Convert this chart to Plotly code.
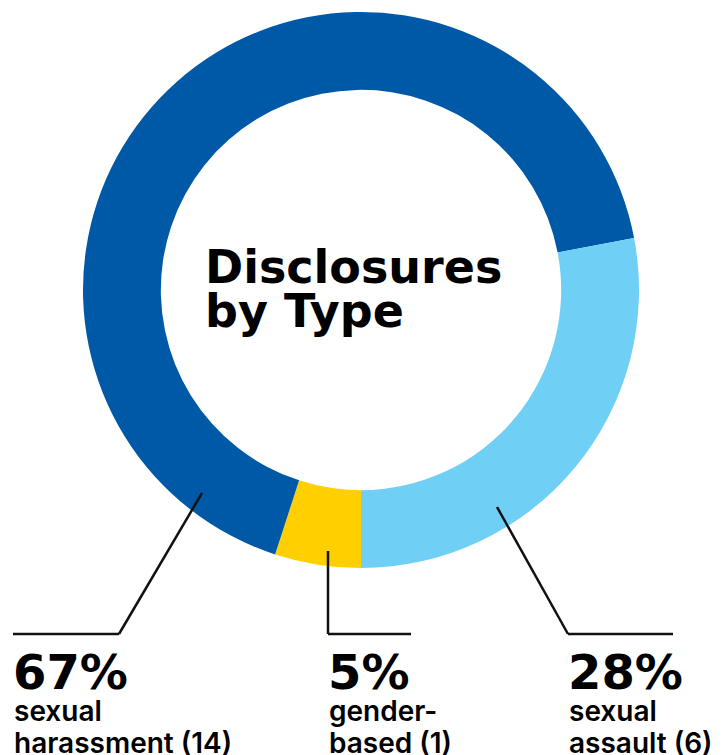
import plotly.graph_objects as go

# Disclosures by type (clockwise from the bottom of the ring)
categories = ["gender-based", "sexual harassment", "sexual assault"]
shares = [5, 67, 28]          # percent of all disclosures
counts = [1, 14, 6]
sub_labels = [["gender-", "based"], ["sexual", "harassment"], ["sexual", "assault"]]
colors = ["#FFCF00", "#0059A6", "#70CFF5"]

W, H = 723, 755
cx, cy, r = 361, 290, 278

fig = go.Figure()
fig.add_trace(go.Pie(
    labels=categories,
    values=shares,
    customdata=counts,
    hole=0.72,
    sort=False,
    direction="clockwise",
    rotation=180,
    marker=dict(colors=colors, line=dict(width=0)),
    textinfo="none",
    hovertemplate="%{label}: %{value}% (%{customdata})<extra></extra>",
    showlegend=False,
    domain=dict(x=[(cx - r) / W, (cx + r) / W], y=[1 - (cy + r) / H, 1 - (cy - r) / H]),
))

# Leader lines: (start on ring, elbow, end of underline)
leaders = {
    "sexual harassment": [(202, 493), (119, 634), (13, 634)],
    "gender-based": [(328, 551), (328, 634), (411, 634)],
    "sexual assault": [(497, 507), (568, 634), (673, 634)],
}
label_x = {"sexual harassment": 13, "gender-based": 328, "sexual assault": 568}

shapes = []
for pts in leaders.values():
    for (x0, y0), (x1, y1) in zip(pts[:-1], pts[1:]):
        shapes.append(dict(type="line", xref="x", yref="y", x0=x0, y0=y0, x1=x1, y1=y1,
                           line=dict(color="#111111", width=2.5)))

annotations = []

def text_at(x, baseline, txt, size, family="DejaVu Sans", weight="bold"):
    annotations.append(dict(
        x=x, y=baseline - 0.345 * size, xref="x", yref="y",
        text=txt, showarrow=False, xanchor="left", yanchor="middle",
        font=dict(family=family, size=size, color="#000000", weight=weight),
    ))

# Centre title
text_at(203, 283, "Disclosures", 46)
text_at(203, 327, "by Type", 46)

for cat, share, n, sub in zip(categories, shares, counts, sub_labels):
    x = label_x[cat]
    text_at(x - 2, 689, f"{share}%", 48)
    text_at(x - 1, 721, sub[0], 28, family="Inter", weight=600)
    text_at(x - 1, 753, f"{sub[1]} ({n})", 28, family="Inter", weight=600)

fig.update_layout(
    width=W, height=H,
    margin=dict(l=0, r=0, t=0, b=0),
    paper_bgcolor="white", plot_bgcolor="white",
    xaxis=dict(range=[0, W], visible=False, fixedrange=True),
    yaxis=dict(range=[H, 0], visible=False, fixedrange=True),
    shapes=shapes,
    annotations=annotations,
)

fig.write_html("out.html")
